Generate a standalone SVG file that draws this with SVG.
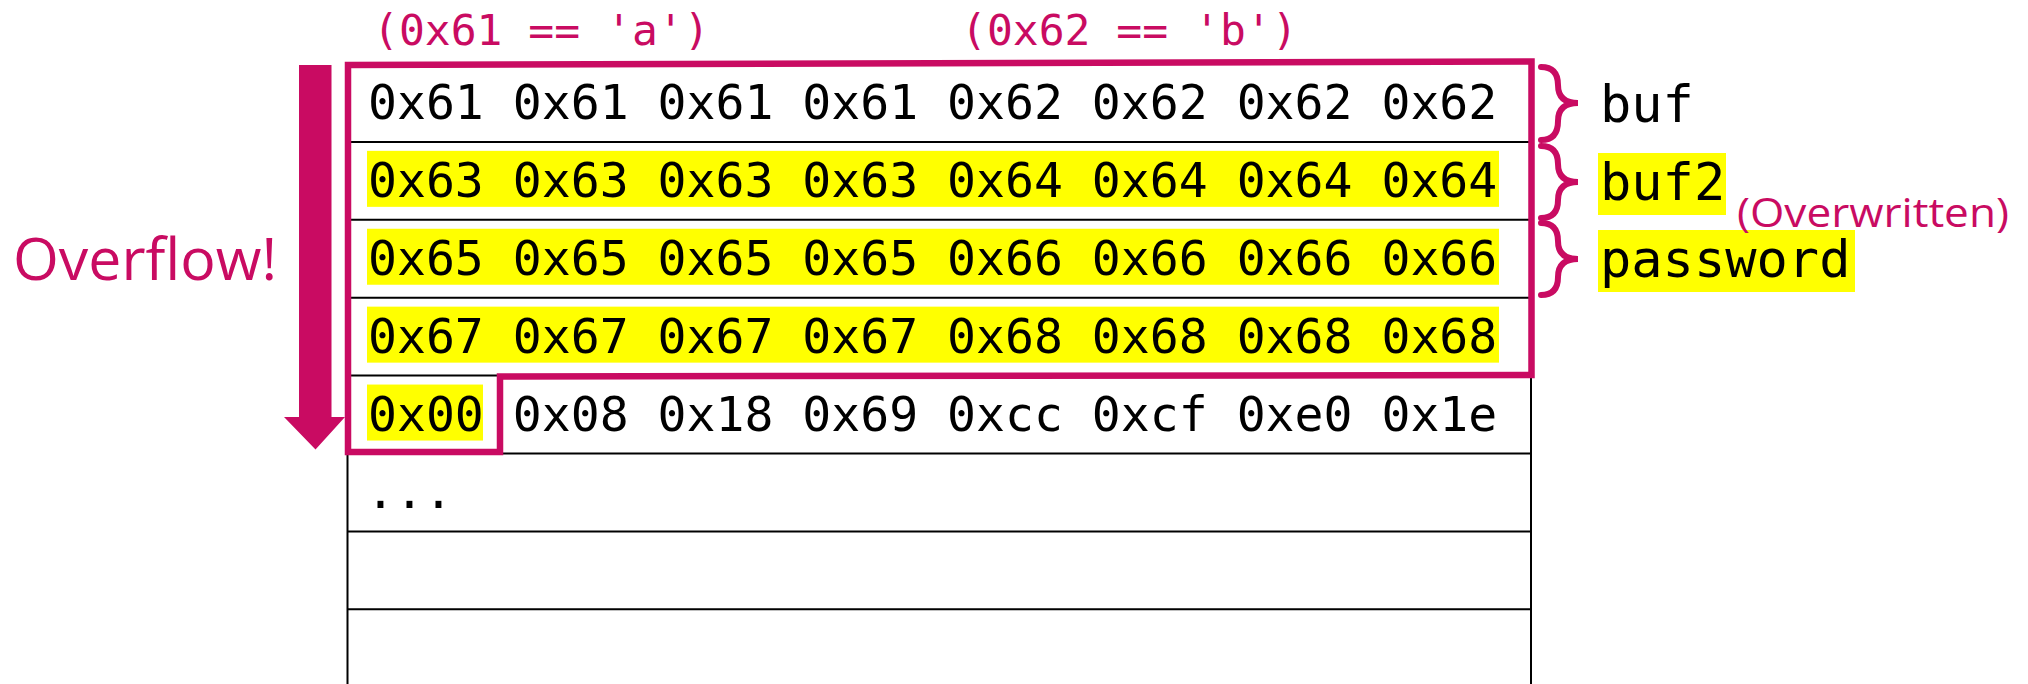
<svg xmlns="http://www.w3.org/2000/svg" width="2028" height="684" viewBox="0 0 2028 684">
<style>
.mono{font-family:"DejaVu Sans Mono","Liberation Mono",monospace;fill:#000}
.cell{font-size:48.1px}
.lbl{font-size:52px}
.pmono{font-family:"DejaVu Sans Mono","Liberation Mono",monospace;font-size:43px;fill:#C90B62}
.psans{font-family:"Open Sans","Lato",sans-serif;font-weight:400;fill:#C90B62}
.hl{fill:#FFFF00}
.grid{stroke:#000;stroke-width:2;fill:none}
.pink{stroke:#C90B62;fill:none}
</style>
<rect width="2028" height="684" fill="#fff"/>
<g id="table">
  <rect class="hl" x="367" y="150.85" width="1132" height="56"/>
  <rect class="hl" x="367" y="228.75" width="1132" height="56"/>
  <rect class="hl" x="367" y="306.65" width="1132" height="56"/>
  <rect class="hl" x="367" y="384.55" width="116" height="56"/>
  <path class="grid" d="M347.5 64 V684 M1531 64 V684 M347.5 141.9 H1531 M347.5 219.8 H1531 M347.5 297.7 H1531 M347.5 375.6 H1531 M347.5 453.5 H1531 M347.5 531.4 H1531 M347.5 609.3 H1531"/>
</g>
<g id="row1"><text class="mono cell" x="368" y="119">0x61 0x61 0x61 0x61 0x62 0x62 0x62 0x62</text></g>
<g id="row2"><text class="mono cell" x="368" y="196.85">0x63 0x63 0x63 0x63 0x64 0x64 0x64 0x64</text></g>
<g id="row3"><text class="mono cell" x="368" y="274.75">0x65 0x65 0x65 0x65 0x66 0x66 0x66 0x66</text></g>
<g id="row4"><text class="mono cell" x="368" y="352.65">0x67 0x67 0x67 0x67 0x68 0x68 0x68 0x68</text></g>
<g id="row5"><text class="mono cell" x="368" y="430.55">0x00 0x08 0x18 0x69 0xcc 0xcf 0xe0 0x1e</text></g>
<g id="row6"><text class="mono cell" x="366" y="508.45">...</text></g>
<g id="overflow-region">
  <path class="pink" stroke-width="6.5" stroke-linejoin="miter" d="M348 65 L1531.5 61.5 L1531.5 375 L500 376.5 L500 452 L348 452 Z"/>
</g>
<g id="note-a"><text class="pmono" x="373" y="45">(0x61 == 'a')</text></g>
<g id="note-b"><text class="pmono" x="961" y="45">(0x62 == 'b')</text></g>
<g id="overflow-label"><text class="psans" x="13" y="280" font-size="58" textLength="264" lengthAdjust="spacingAndGlyphs">Overflow!</text></g>
<g id="label-buf"><text class="mono lbl" x="1600" y="121.5">buf</text></g>
<g id="label-buf2">
  <rect class="hl" x="1598" y="153" width="128" height="62"/>
  <text class="mono lbl" x="1600" y="200">buf2</text>
</g>
<g id="label-password">
  <rect class="hl" x="1598" y="230" width="257" height="62"/>
  <text class="mono lbl" x="1600" y="277">password</text>
</g>
<g id="label-overwritten"><text class="psans" x="1737" y="227" font-size="41" textLength="272" lengthAdjust="spacingAndGlyphs">(Overwritten)</text></g>
<g id="connectors">
  <path fill="#C90B62" d="M299 65 H331.5 V417 H345 L315.5 449.5 L284 417 H299 Z"/>
  <path class="pink" stroke-width="6" stroke-linecap="round" d="M1541 67 Q1558 67 1558 85 Q1558 103 1578 103 Q1558 103 1558 121 Q1558 140 1541 140"/>
  <path class="pink" stroke-width="6" stroke-linecap="round" d="M1541 146 Q1558 146 1558 164 Q1558 182 1578 182 Q1558 182 1558 200 Q1558 218 1541 218"/>
  <path class="pink" stroke-width="6" stroke-linecap="round" d="M1541 223 Q1558 223 1558 241 Q1558 259 1578 259 Q1558 259 1558 277 Q1558 295 1541 295"/>
</g>
</svg>
